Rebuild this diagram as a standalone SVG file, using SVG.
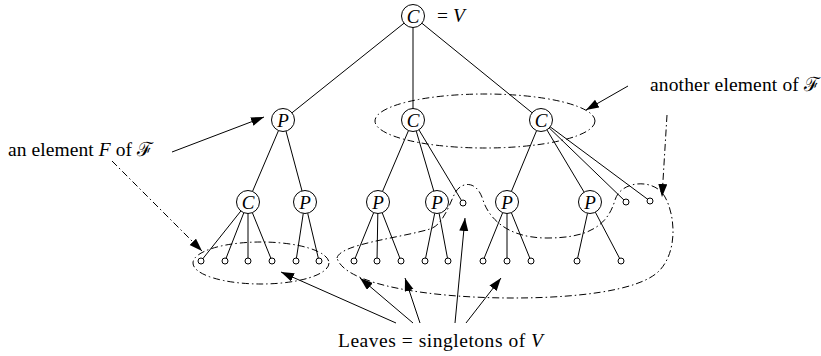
<svg xmlns="http://www.w3.org/2000/svg" width="821" height="356" viewBox="0 0 821 356">
<style>
.e{stroke:#000;stroke-width:1;fill:none}
.n{fill:#fff;stroke:#000;stroke-width:1}
.lf{fill:#fff;stroke:#000;stroke-width:1}
.lb{font-family:"Liberation Serif","DejaVu Serif",serif;font-style:italic;font-size:19px;text-anchor:middle;fill:#000}
.t{font-family:"Liberation Serif","DejaVu Serif",serif;font-size:19.5px;fill:#000}
.i{font-style:italic}
.dd{stroke:#000;stroke-width:1;fill:none;stroke-dasharray:7 3 1.5 3}
.ar{stroke:#000;stroke-width:1;fill:none}
</style>
<defs>
<marker id="ah" markerUnits="userSpaceOnUse" markerWidth="14" markerHeight="10" refX="13" refY="4.5" orient="auto">
<path d="M0,0 L13,4.5 L0,9 z" fill="#000"/>
</marker>
</defs>
<g id="connectors">
<line class="e" x1="413" y1="16" x2="283" y2="120"/>
<line class="e" x1="413" y1="16" x2="413" y2="120"/>
<line class="e" x1="413" y1="16" x2="541" y2="120"/>
<line class="e" x1="283" y1="120" x2="248" y2="202"/>
<line class="e" x1="283" y1="120" x2="305" y2="202"/>
<line class="e" x1="413" y1="120" x2="378" y2="202"/>
<line class="e" x1="413" y1="120" x2="437" y2="202"/>
<line class="e" x1="413" y1="120" x2="463" y2="203"/>
<line class="e" x1="541" y1="120" x2="507" y2="202"/>
<line class="e" x1="541" y1="120" x2="590" y2="202"/>
<line class="e" x1="541" y1="120" x2="626" y2="202"/>
<line class="e" x1="541" y1="120" x2="650" y2="201"/>
<line class="e" x1="248" y1="202" x2="201" y2="261"/>
<line class="e" x1="248" y1="202" x2="225" y2="261"/>
<line class="e" x1="248" y1="202" x2="248" y2="261"/>
<line class="e" x1="248" y1="202" x2="272" y2="261"/>
<line class="e" x1="305" y1="202" x2="296" y2="261"/>
<line class="e" x1="305" y1="202" x2="319" y2="261"/>
<line class="e" x1="378" y1="202" x2="354" y2="261"/>
<line class="e" x1="378" y1="202" x2="377" y2="261"/>
<line class="e" x1="378" y1="202" x2="401" y2="261"/>
<line class="e" x1="437" y1="202" x2="425" y2="261"/>
<line class="e" x1="437" y1="202" x2="448" y2="261"/>
<line class="e" x1="507" y1="202" x2="483" y2="261"/>
<line class="e" x1="507" y1="202" x2="507" y2="261"/>
<line class="e" x1="507" y1="202" x2="531" y2="261"/>
<line class="e" x1="590" y1="202" x2="577" y2="261"/>
<line class="e" x1="590" y1="202" x2="621" y2="261"/>
</g>
<g id="n_root"><circle class="n" cx="413" cy="16" r="11.5"/><text class="lb" x="413" y="22.5">C</text></g>
<g id="n_p1"><circle class="n" cx="283" cy="120" r="11.5"/><text class="lb" x="283" y="126.5">P</text></g>
<g id="n_c1"><circle class="n" cx="413" cy="120" r="11.5"/><text class="lb" x="413" y="126.5">C</text></g>
<g id="n_c2"><circle class="n" cx="541" cy="120" r="11.5"/><text class="lb" x="541" y="126.5">C</text></g>
<g id="n_c3"><circle class="n" cx="248" cy="202" r="11.5"/><text class="lb" x="248" y="208.5">C</text></g>
<g id="n_p2"><circle class="n" cx="305" cy="202" r="11.5"/><text class="lb" x="305" y="208.5">P</text></g>
<g id="n_p3"><circle class="n" cx="378" cy="202" r="11.5"/><text class="lb" x="378" y="208.5">P</text></g>
<g id="n_p4"><circle class="n" cx="437" cy="202" r="11.5"/><text class="lb" x="437" y="208.5">P</text></g>
<g id="n_p5"><circle class="n" cx="507" cy="202" r="11.5"/><text class="lb" x="507" y="208.5">P</text></g>
<g id="n_p6"><circle class="n" cx="590" cy="202" r="11.5"/><text class="lb" x="590" y="208.5">P</text></g>
<g id="leaves">
<circle class="lf" cx="463" cy="203" r="3"/>
<circle class="lf" cx="626" cy="202" r="3"/>
<circle class="lf" cx="650" cy="201" r="3"/>
<circle class="lf" cx="201" cy="261" r="3"/>
<circle class="lf" cx="225" cy="261" r="3"/>
<circle class="lf" cx="248" cy="261" r="3"/>
<circle class="lf" cx="272" cy="261" r="3"/>
<circle class="lf" cx="296" cy="261" r="3"/>
<circle class="lf" cx="319" cy="261" r="3"/>
<circle class="lf" cx="354" cy="261" r="3"/>
<circle class="lf" cx="377" cy="261" r="3"/>
<circle class="lf" cx="401" cy="261" r="3"/>
<circle class="lf" cx="425" cy="261" r="3"/>
<circle class="lf" cx="448" cy="261" r="3"/>
<circle class="lf" cx="483" cy="261" r="3"/>
<circle class="lf" cx="507" cy="261" r="3"/>
<circle class="lf" cx="531" cy="261" r="3"/>
<circle class="lf" cx="577" cy="261" r="3"/>
<circle class="lf" cx="621" cy="261" r="3"/>
</g>
<g id="groups">
<ellipse class="dd" cx="261" cy="263" rx="68" ry="21"/>
<ellipse class="dd" cx="485" cy="121" rx="110" ry="27"/>
<path class="dd" d="M337 258 C340 244 400 238 430 229 C443 225 449 205 455 193 C460 183 476 178 483 200 C488 216 505 238 547 238 C585 238 607 228 615 200 C621 180 655 178 665 197 C675 215 678 250 660 270 C640 292 570 298 513 298 C430 298 345 285 337 258 Z"/>
</g>
<g id="labels">
<text class="t" x="437" y="22">= <tspan class="i">V</tspan></text>
<text class="t" x="8" y="156" textLength="145" lengthAdjust="spacing">an element <tspan class="i">F</tspan> of ℱ</text>
<text class="t" x="650" y="91" textLength="170" lengthAdjust="spacing">another element of ℱ</text>
<text class="t" x="338" y="347" textLength="205" lengthAdjust="spacing">Leaves = singletons of <tspan class="i">V</tspan></text>
</g>
<g id="arrows">
<line class="ar" x1="172" y1="152" x2="264" y2="117" marker-end="url(#ah)"/>
<line class="dd" x1="112" y1="161" x2="202" y2="251" marker-end="url(#ah)"/>
<line class="ar" x1="628" y1="86" x2="586" y2="110" marker-end="url(#ah)"/>
<line class="dd" x1="667" y1="115" x2="662" y2="197" marker-end="url(#ah)"/>
<line class="ar" x1="396" y1="323" x2="281" y2="272" marker-end="url(#ah)"/>
<line class="ar" x1="413" y1="323" x2="360" y2="278" marker-end="url(#ah)"/>
<line class="ar" x1="420" y1="323" x2="405" y2="278" marker-end="url(#ah)"/>
<line class="ar" x1="455" y1="323" x2="465" y2="218" marker-end="url(#ah)"/>
<line class="ar" x1="466" y1="323" x2="501" y2="278" marker-end="url(#ah)"/>
</g>
</svg>
